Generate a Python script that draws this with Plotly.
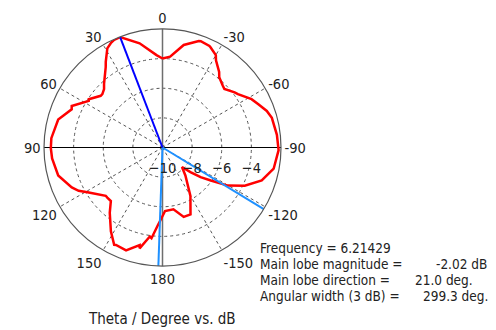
import plotly.graph_objects as go

# Pattern: theta (deg, ccw from top) vs gain (dB)
theta_deg = [0, 3.7, 12.4, 21, 24.2, 26.4, 29.1, 33.5, 35.2, 42.6, 45, 48.4, 50.1, 56.8, 57.7,
             65.4, 67.2, 75, 85.2, 90.4, 95.7, 105, 113.7, 117.3, 121.4, 130.4, 132.2, 136, 141.1,
             148.4, 153.6, 154.5, 160.5, 166.8, 167.2, 171.9, 173.1, 176.8, 178, 180.7, 182.3,
             190, 197, 202.7, 210, 219.3, 225, 228.7, 232.1, 235.6, 239.7, 245.1, 251.6, 259.2,
             268.7, 276.3, 285.2, 289.3, 294.3, 298.5, 305.3, 307.4, 313.4, 315.8, 321.1, 323.1,
             328.5, 330, 334.4, 335.2, 340.2, 341.2, 348.3, 355.2, 360]
gain_db = [-3.99, -3.75, -2.8, -2.02, -2.03, -2.14, -2.34, -3.06, -3.35, -4.17, -4.42, -4.57, -4.56,
           -4.05, -4.11, -3.26, -3.35, -2.71, -2.47, -2.46, -2.51, -2.71, -3.31, -3.63, -4.17, -4.97,
           -4.97, -4.98, -4.33, -3.35, -2.66, -2.71, -2.63, -3.24, -3.02, -3.93, -3.83, -4.79, -5.02,
           -5.48, -5.71, -5.76, -5.1, -5.1, -6.23, -7.56, -8.14, -7.49, -6.74, -6.05, -4.9, -3.88,
           -2.94, -2.36, -2.16, -2.23, -2.35, -2.54, -2.9, -3.16, -3.76, -3.87, -4.25, -4.17, -3.9,
           -3.63, -3.09, -2.8, -2.5, -2.45, -2.37, -2.4, -2.93, -3.85, -3.99]

r_min, r_max = -10, -2
radial_ticks = [-10, -8, -6, -4]
angle_ticks = [0, 30, 60, 90, 120, 150, 180, 210, 240, 270, 300, 330]
angle_labels = ["0", "30", "60", "90", "120", "150", "180", "-150", "-120", "-90", "-60", "-30"]

main_lobe_dir = 21.0
main_lobe_mag = -2.02
beam_edges = [-121.3, 178.0]
frequency = 6.21429
ang_width = 299.3

FONT = "DejaVu Sans Condensed, DejaVu Sans, sans-serif"
FS = 14.5
FS_TXT = 13.5
TXT = "#222222"
fig = go.Figure()

# crosshair axes
fig.add_trace(go.Scatterpolar(r=[r_max, r_min, r_max], theta=[0, 0, 180], mode="lines",
                              line=dict(color="#6e6e6e", width=1.5), hoverinfo="skip"))
fig.add_trace(go.Scatterpolar(r=[r_max, r_min, r_max], theta=[90, 90, 270], mode="lines",
                              line=dict(color="#000000", width=1), hoverinfo="skip"))
# pattern
fig.add_trace(go.Scatterpolar(r=gain_db, theta=theta_deg, mode="lines",
                              line=dict(color="#ff0000", width=2.5)))
# beam edge lines
for b in beam_edges:
    fig.add_trace(go.Scatterpolar(r=[r_min, r_max], theta=[b, b], mode="lines",
                                  line=dict(color="#1e90ff", width=2)))
# main lobe
fig.add_trace(go.Scatterpolar(r=[r_min, main_lobe_mag], theta=[main_lobe_dir, main_lobe_dir],
                              mode="lines", line=dict(color="#0000ff", width=2)))

OFF = 8  # page body margin
W, H = 488, 322
cx, cy, R = 162.5 - OFF, 147.5 - OFF, 118.5

fig.update_layout(
    width=W, height=H, showlegend=False,
    margin=dict(l=0, r=0, t=0, b=0),
    paper_bgcolor="white", plot_bgcolor="white",
    font=dict(family=FONT, size=FS, color=TXT),
    polar=dict(
        domain=dict(x=[(cx - R) / W, (cx + R) / W], y=[1 - (cy + R) / H, 1 - (cy - R) / H]),
        bgcolor="white",
        angularaxis=dict(rotation=90, direction="counterclockwise",
                         tickvals=angle_ticks, ticktext=angle_labels, ticks="",
                         showline=True, linecolor="#555555", linewidth=1.2,
                         showgrid=True, gridcolor="#555555", gridwidth=1, griddash="3px,3px",
                         tickfont=dict(family=FONT, size=FS, color=TXT)),
        radialaxis=dict(range=[r_min, r_max], tickvals=radial_ticks, angle=0,
                        side="clockwise", showline=False, ticks="outside", ticklen=8,
                        tickcolor="rgba(0,0,0,0)", tickangle=0,
                        showgrid=True, gridcolor="#555555", gridwidth=1, griddash="3px,3px",
                        tickfont=dict(family=FONT, size=FS, color=TXT)),
    ),
)

def ann(text, x, y, anchor="left", size=FS_TXT):
    fig.add_annotation(text=text, x=(x - OFF) / W, y=1 - (y - OFF) / H, xref="paper", yref="paper",
                       xanchor=anchor, yanchor="middle", showarrow=False, borderpad=0,
                       font=dict(family=FONT, size=size, color=TXT))

ann(f"Frequency = {frequency}", 259, 248)
ann("Main lobe magnitude =", 259, 264)
ann(f"{main_lobe_mag:.2f} dB", 488, 264, "right")
ann("Main lobe direction =", 259, 280)
ann(f"{main_lobe_dir:.1f} deg.", 474, 280, "right")
ann("Angular width (3 dB) =", 259, 296)
ann(f"{ang_width:.1f} deg.", 489, 296, "right")
ann("Theta / Degree vs. dB", 162, 319, "center", 15)

fig.write_html("out.html")
